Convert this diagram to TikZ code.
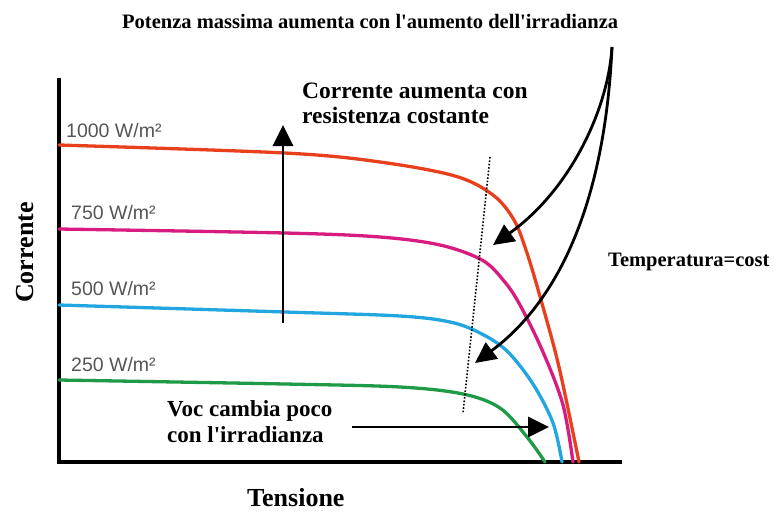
\documentclass[tikz,border=0pt]{standalone}
\usepackage{fontspec}
\setmainfont[Ligatures=TeXOff]{Liberation Serif}
\newfontfamily\lsans{Liberation Sans}
\usetikzlibrary{arrows.meta}
\definecolor{rosso}{HTML}{E8401C}
\definecolor{magenta}{HTML}{D81B7E}
\definecolor{azzurro}{HTML}{22A6E0}
\definecolor{verde}{HTML}{1F9A48}
\definecolor{grigio}{HTML}{555555}
\begin{document}
\begin{tikzpicture}[x=1pt,y=-1pt,
 curva/.style={line width=3.3pt,line cap=round},
 freccia/.style={line width=2.8pt,-{Triangle[length=21pt,width=20pt]}},
 testo/.style={font=\bfseries\fontsize{23}{26}\selectfont,align=left,inner sep=0pt,anchor=base west},
 etich/.style={font=\lsans\fontsize{19.5}{20}\selectfont,text=grigio,inner sep=0pt,anchor=base west}]
\useasboundingbox (0,0) rectangle (774,512);
% assi
 \draw[line width=3.3pt](59,78)--(59,462)--(622,462);
 \node[testo,font=\bfseries\fontsize{26}{26}\selectfont,rotate=90] (corrente) at (33,303) {Corrente};
 \node[testo,font=\bfseries\fontsize{26}{26}\selectfont] (tensione) at (247,506) {Tensione};
% curve I-V
 \draw[curva,rosso] plot[smooth,tension=0.55] coordinates {(59,145) (285,153) (380,162) (455,176) (493,195) (514,220) (527,253) (541,300) (559,367) (579,462)};
 \draw[curva,magenta] plot[smooth,tension=0.55] coordinates {(59,229) (285,233) (380,237) (440,245) (482,260) (504,281) (520,305) (543,352) (563,405) (573,462)};
 \draw[curva,azzurro] plot[smooth,tension=0.55] coordinates {(59,305) (285,312) (400,316) (450,322) (480,333) (507,351) (533,384) (553,423) (562,462)};
 \draw[curva,verde] plot[smooth,tension=0.55] coordinates {(59,380) (285,384) (400,387) (463,394) (500,408) (527,437) (545,462)};
 \node[etich] (e1000) at (66,137) {1000 W/m²};
 \node[etich] (e750) at (71,219) {750 W/m²};
 \node[etich] (e500) at (71,295) {500 W/m²};
 \node[etich] (e250) at (71,371) {250 W/m²};
 \draw[line width=1.6pt,dash pattern=on 1.6pt off 1.8pt](490,157)--(463,413);
% testi
 \node[testo,font=\bfseries\fontsize{20.5}{24}\selectfont] (potenza) at (122,28) {Potenza massima aumenta con l'aumento dell'irradianza};
 \node[testo,font=\bfseries\fontsize{23.5}{25}\selectfont] (aumenta) at (302,123) {Corrente aumenta con\\resistenza costante};
 \node[testo,font=\bfseries\fontsize{20.5}{24}\selectfont] (temp) at (608,266) {Temperatura=cost};
 \node[testo] (voc) at (167,442) {Voc cambia poco\\con l'irradianza};
% frecce
 \coordinate (vgiu) at (283,323);
 \coordinate (vsu) at (283,125);
 \draw[freccia] (vgiu)--(vsu);
 \coordinate (fonte) at (612,47);
 \coordinate (pmax1) at (493,245);
 \coordinate (pmax2) at (475,363);
 \draw[freccia] (fonte) .. controls (608,110) and (570,190) .. (pmax1);
 \draw[freccia] (fonte) .. controls (605,200) and (560,300) .. (pmax2);
 \coordinate (vocs) at (352,427);
 \coordinate (voce) at (549,427);
 \draw[freccia] (vocs)--(voce);
\end{tikzpicture}
\end{document}
